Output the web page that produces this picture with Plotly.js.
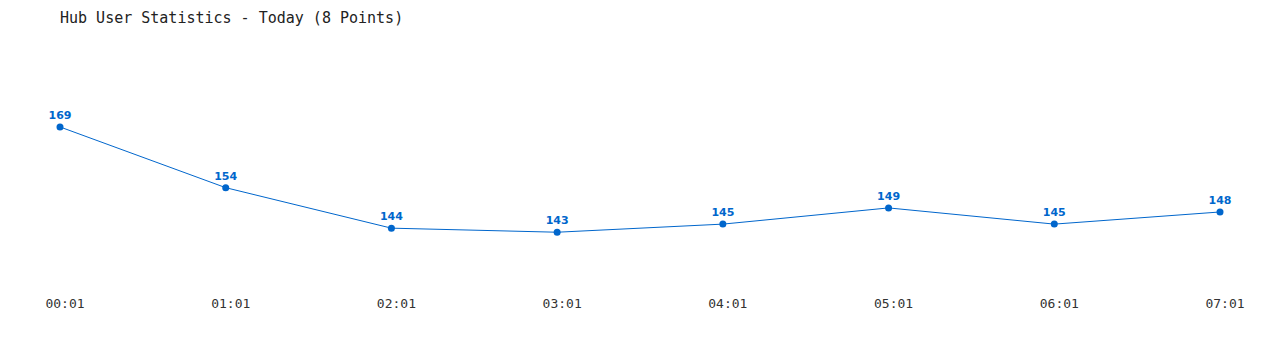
<!DOCTYPE html>
<html><head><meta charset="utf-8">
<script src="https://cdn.plot.ly/plotly-3.0.1.min.js"></script>
<style>html,body{margin:0;padding:0;background:#fff}#c{width:1280px;height:350px}</style>
</head><body><div id="c"></div>
<script>
const times = ["00:01","01:01","02:01","03:01","04:01","05:01","06:01","07:01"];
const users = [169,154,144,143,145,149,145,148];
const idx = times.map((_, i) => i);
Plotly.newPlot('c', [{
  x: idx, y: users, type: 'scatter', mode: 'lines+markers+text',
  text: users.map(String), textposition: 'top center',
  textfont: {family: 'DejaVu Sans', size: 11, color: '#0066cc', weight: 'bold'},
  line: {color: '#0066cc', width: 1},
  marker: {color: '#0066cc', size: 7},
  cliponaxis: false, hoverinfo: 'none'
}], {
  width: 1280, height: 350,
  margin: {l: 60, r: 60, t: 50, b: 70},
  paper_bgcolor: '#fff', plot_bgcolor: '#fff',
  title: {text: 'Hub User Statistics - Today (8 Points)', x: 60/1280, xanchor: 'left', y: 1 - 18/350, yanchor: 'middle',
    font: {family: 'DejaVu Sans Mono', size: 15, color: '#222'}},
  xaxis: {range: [0, 7], tickvals: idx, ticktext: times, showgrid: false, zeroline: false, showline: false,
    ticks: '', ticklabelstandoff: 14, ticklabelshift: 5,
    tickfont: {family: 'DejaVu Sans Mono', size: 13, color: '#333'}},
  yaxis: {range: [131.2, 188], visible: false, showgrid: false, zeroline: false},
  showlegend: false
}, {staticPlot: true});
</script></body></html>
